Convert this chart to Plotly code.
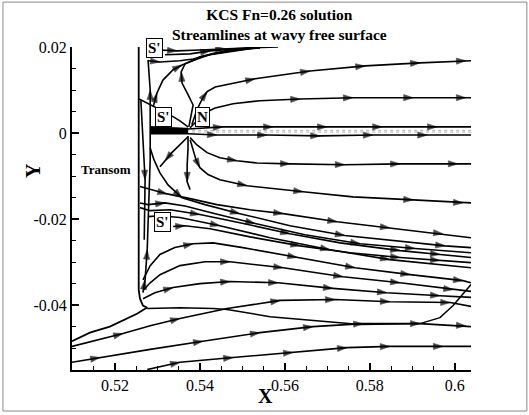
import plotly.graph_objects as go

# ---------------- axis ticks ----------------
x_tick_vals = [0.52, 0.54, 0.56, 0.58, 0.60]
x_tick_text = ["0.52", "0.54", "0.56", "0.58", "0.6"]
y_tick_vals = [0.02, 0.0, -0.02, -0.04]
y_tick_text = ["0.02", "0", "-0.02", "-0.04"]

# ---------------- streamline data (X, Y) + arrow vertex indices ----------------
transom_x = [0.5099, 0.5141, 0.5188, 0.5224, 0.5252, 0.5268, 0.5276, 0.5266, 0.5259, 0.5256, 0.5256]
transom_y = [-0.0484, -0.0464, -0.0450, -0.0434, -0.0420, -0.0410, -0.0406, -0.0401, -0.0385, -0.0364, 0.0201]

top1_x = [0.5278, 0.5306, 0.5353, 0.5384, 0.5424, 0.5487, 0.5530]
top1_y = [0.0169, 0.0166, 0.0169, 0.0173, 0.0183, 0.0192, 0.0199]
top1_arrows = [1]

top2_x = [0.5306, 0.5346, 0.5400, 0.5459, 0.5518, 0.5584]
top2_y = [0.0194, 0.0192, 0.0194, 0.0197, 0.0199, 0.0201]
top2_arrows = [1, 3]

top3_x = [0.5318, 0.5377, 0.5424, 0.5483, 0.5541]
top3_y = [0.0183, 0.0185, 0.0192, 0.0197, 0.0199]
top3_arrows = [2]

sep_c1_x = [0.5290, 0.5294, 0.5299, 0.5313, 0.5337, 0.5358, 0.5388, 0.5428, 0.5487, 0.5541]
sep_c1_y = [0.0062, 0.0078, 0.0094, 0.0124, 0.0148, 0.0159, 0.0171, 0.0185, 0.0194, 0.0199]
sep_c1_arrows = [2, 5]

sep_c2_x = [0.5374, 0.5379, 0.5384, 0.5372, 0.5358, 0.5356, 0.5365, 0.5400, 0.5459, 0.5518]
sep_c2_y = [0.0015, 0.0043, 0.0066, 0.0090, 0.0117, 0.0143, 0.0162, 0.0178, 0.0192, 0.0199]
sep_c2_arrows = [5]

up1_x = [0.5381, 0.5393, 0.5407, 0.5417, 0.5436, 0.5483, 0.5530, 0.5659, 0.5789, 0.5918, 0.6026, 0.6038]
up1_y = [0.0020, 0.0055, 0.0083, 0.0097, 0.0108, 0.0117, 0.0127, 0.0145, 0.0157, 0.0164, 0.0169, 0.0169]
up1_arrows = [3, 6, 7, 8, 9, 10]

up2_x = [0.5377, 0.5396, 0.5412, 0.5436, 0.5478, 0.5541, 0.5636, 0.5760, 0.5902, 0.6026, 0.6038]
up2_y = [0.0013, 0.0031, 0.0048, 0.0059, 0.0069, 0.0076, 0.0080, 0.0083, 0.0083, 0.0083, 0.0083]
up2_arrows = [6, 7, 8, 9]

hz1_x = [0.5283, 0.5372, 0.5454, 0.5572, 0.5699, 0.5829, 0.5958, 0.6038]
hz1_y = [0.0015, 0.0010, 0.0015, 0.0015, 0.0015, 0.0015, 0.0015, 0.0015]
hz1_arrows = [2, 3, 4, 5, 6]

hz2_x = [0.5283, 0.5372, 0.5440, 0.5558, 0.5683, 0.5807, 0.5935, 0.6038]
hz2_y = [-0.0001, -0.0001, -0.0004, -0.0004, -0.0006, -0.0004, -0.0004, -0.0004]
hz2_arrows = [2, 3, 4, 5, 6]

thin1_x = [0.5283, 0.6038]
thin1_y = [0.0007, 0.0007]
thin2_x = [0.5283, 0.6038]
thin2_y = [0.0003, 0.0003]

core_x = [0.5283, 0.5330, 0.5372]
core_y = [0.0008, 0.0007, 0.0006]

nleft_x = [0.5372, 0.5353, 0.5330, 0.5306, 0.5283, 0.5266, 0.5257]
nleft_y = [0.0015, 0.0029, 0.0043, 0.0055, 0.0066, 0.0076, 0.0080]

dn1_x = [0.5377, 0.5393, 0.5417, 0.5447, 0.5487, 0.5534, 0.5612, 0.5741, 0.5871, 0.6007, 0.6038]
dn1_y = [-0.0010, -0.0027, -0.0045, -0.0057, -0.0064, -0.0069, -0.0071, -0.0073, -0.0071, -0.0071, -0.0071]
dn1_arrows = [4, 6, 7, 8, 9]

dn2_x = [0.5377, 0.5384, 0.5391, 0.5400, 0.5419, 0.5447, 0.5511, 0.5643, 0.5760, 0.5902, 0.6019, 0.6038]
dn2_y = [-0.0015, -0.0038, -0.0062, -0.0080, -0.0096, -0.0108, -0.0122, -0.0136, -0.0148, -0.0155, -0.0162, -0.0162]
dn2_arrows = [3, 6, 7, 9, 10]

dn3_x = [0.5372, 0.5372, 0.5370, 0.5370, 0.5377]
dn3_y = [-0.0006, -0.0038, -0.0073, -0.0113, -0.0131]
dn3_arrows = [3]

dnleft_x = [0.5372, 0.5353, 0.5334, 0.5318, 0.5306]
dnleft_y = [-0.0008, -0.0027, -0.0045, -0.0064, -0.0078]
dnleft_arrows = [3]

vert_up_x = [0.5266, 0.5271, 0.5276, 0.5280, 0.5283, 0.5283, 0.5283, 0.5278]
vert_up_y = [-0.0371, -0.0341, -0.0271, -0.0155, -0.0062, 0.0031, 0.0101, 0.0171]
vert_up_arrows = [1, 2, 6]

vert_dn_x = [0.5261, 0.5266, 0.5271, 0.5269]
vert_dn_y = [0.0078, -0.0015, -0.0108, -0.0248]
vert_dn_arrows = [2]

sep_d4_x = [0.5283, 0.5292, 0.5306, 0.5325, 0.5358, 0.5412, 0.5494, 0.5612, 0.5741, 0.5871, 0.5977, 0.6038]
sep_d4_y = [-0.0034, -0.0062, -0.0092, -0.0120, -0.0150, -0.0166, -0.0187, -0.0215, -0.0238, -0.0252, -0.0262, -0.0266]
sep_d4_arrows = [4, 6, 8, 10]

bd1_x = [0.5259, 0.5283, 0.5323, 0.5377, 0.5440, 0.5518, 0.5596, 0.5723, 0.5847, 0.5972, 0.6038]
bd1_y = [-0.0124, -0.0131, -0.0141, -0.0152, -0.0166, -0.0178, -0.0187, -0.0206, -0.0220, -0.0234, -0.0243]
bd1_arrows = [2, 6, 7, 8, 9]

bd3_x = [0.5259, 0.5278, 0.5318, 0.5365, 0.5436, 0.5530, 0.5647, 0.5777, 0.5906, 0.6038]
bd3_y = [-0.0162, -0.0166, -0.0162, -0.0169, -0.0187, -0.0210, -0.0236, -0.0257, -0.0268, -0.0278]
bd3_arrows = [2, 5, 7, 8]

bd4_x = [0.5259, 0.5283, 0.5330, 0.5400, 0.5494, 0.5612, 0.5730, 0.5871, 0.5965, 0.6038]
bd4_y = [-0.0173, -0.0180, -0.0178, -0.0189, -0.0208, -0.0234, -0.0255, -0.0273, -0.0282, -0.0289]
bd4_arrows = [3, 5, 7, 8]

bd5_x = [0.5337, 0.5365, 0.5424, 0.5518, 0.5636, 0.5753, 0.5871, 0.5965, 0.6038]
bd5_y = [-0.0217, -0.0215, -0.0222, -0.0241, -0.0262, -0.0278, -0.0289, -0.0296, -0.0301]
bd5_arrows = [1, 4, 6, 7]

bd6_x = [0.5278, 0.5306, 0.5353, 0.5447, 0.5565, 0.5706, 0.5847, 0.6038]
bd6_y = [-0.0194, -0.0192, -0.0196, -0.0215, -0.0243, -0.0271, -0.0294, -0.0313]
bd6_arrows = [3, 5, 6]

lo1_x = [0.5266, 0.5283, 0.5306, 0.5341, 0.5384, 0.5431, 0.5501, 0.5629, 0.5765, 0.5895, 0.6019, 0.6038]
lo1_y = [-0.0341, -0.0308, -0.0282, -0.0266, -0.0257, -0.0255, -0.0266, -0.0289, -0.0313, -0.0329, -0.0343, -0.0348]
lo1_arrows = [4, 7, 8, 9, 10]

lo2_x = [0.5266, 0.5283, 0.5306, 0.5353, 0.5412, 0.5471, 0.5596, 0.5737, 0.5871, 0.5996, 0.6038]
lo2_y = [-0.0366, -0.0348, -0.0329, -0.0308, -0.0299, -0.0299, -0.0313, -0.0334, -0.0348, -0.0364, -0.0368]
lo2_arrows = [5, 6, 7, 8, 9]

lo3_x = [0.5266, 0.5294, 0.5337, 0.5400, 0.5471, 0.5584, 0.5713, 0.5840, 0.5965, 0.6038]
lo3_y = [-0.0385, -0.0371, -0.0359, -0.0350, -0.0345, -0.0348, -0.0361, -0.0371, -0.0378, -0.0382]
lo3_arrows = [2, 4, 5, 6, 7, 8]

lo4_x = [0.5099, 0.5165, 0.5219, 0.5283, 0.5353, 0.5464, 0.5589, 0.5718, 0.5847, 0.5989, 0.6038]
lo4_y = [-0.0496, -0.0480, -0.0466, -0.0448, -0.0431, -0.0408, -0.0389, -0.0387, -0.0392, -0.0394, -0.0403]
lo4_arrows = [2, 4, 6, 7, 8, 9]

wake_edge_x = [0.5276, 0.5353, 0.5431, 0.5464, 0.5565, 0.5683, 0.5777, 0.5918, 0.5965, 0.5996, 0.6019, 0.6038]
wake_edge_y = [-0.0408, -0.0406, -0.0408, -0.0410, -0.0427, -0.0438, -0.0445, -0.0443, -0.0429, -0.0401, -0.0375, -0.0352]

lo5_x = [0.5099, 0.5165, 0.5283, 0.5407, 0.5541, 0.5666, 0.5784, 0.5918, 0.6026, 0.6038]
lo5_y = [-0.0533, -0.0522, -0.0503, -0.0484, -0.0464, -0.0450, -0.0443, -0.0443, -0.0448, -0.0450]
lo5_arrows = [1, 3, 4, 5, 6, 7, 8]

lo6_x = [0.5276, 0.5353, 0.5478, 0.5619, 0.5746, 0.5847, 0.5972, 0.6038]
lo6_y = [-0.0550, -0.0533, -0.0522, -0.0510, -0.0499, -0.0496, -0.0496, -0.0496]
lo6_arrows = [1, 2, 3, 4, 5, 6]

# ---------------- labels ----------------
title_lines = ["KCS Fn=0.26 solution", "Streamlines at wavy free surface"]
x_label = "X"
y_label = "Y"
point_labels = ["S'", "S'", "N", "S'"]
point_label_x = [0.5294, 0.5315, 0.5407, 0.5313]
point_label_y = [0.0199, 0.0038, 0.0038, -0.0206]
transom_label = "Transom"
transom_label_x = 0.5178
transom_label_y = -0.0085

# ---------------- build figure ----------------
SERIF = "Liberation Serif, Times New Roman, serif"
fig = go.Figure()

arrow_lines = [
    (top1_x, top1_y, top1_arrows), (top2_x, top2_y, top2_arrows), (top3_x, top3_y, top3_arrows),
    (sep_c1_x, sep_c1_y, sep_c1_arrows), (sep_c2_x, sep_c2_y, sep_c2_arrows),
    (up1_x, up1_y, up1_arrows), (up2_x, up2_y, up2_arrows),
    (hz1_x, hz1_y, hz1_arrows), (hz2_x, hz2_y, hz2_arrows),
    (dn1_x, dn1_y, dn1_arrows), (dn2_x, dn2_y, dn2_arrows), (dn3_x, dn3_y, dn3_arrows),
    (dnleft_x, dnleft_y, dnleft_arrows),
    (vert_up_x, vert_up_y, vert_up_arrows), (vert_dn_x, vert_dn_y, vert_dn_arrows),
    (sep_d4_x, sep_d4_y, sep_d4_arrows),
    (bd1_x, bd1_y, bd1_arrows), (bd3_x, bd3_y, bd3_arrows), (bd4_x, bd4_y, bd4_arrows),
    (bd5_x, bd5_y, bd5_arrows), (bd6_x, bd6_y, bd6_arrows),
    (lo1_x, lo1_y, lo1_arrows), (lo2_x, lo2_y, lo2_arrows), (lo3_x, lo3_y, lo3_arrows),
    (lo4_x, lo4_y, lo4_arrows), (lo5_x, lo5_y, lo5_arrows), (lo6_x, lo6_y, lo6_arrows),
]
plain_lines = [
    (transom_x, transom_y, 1.8), (nleft_x, nleft_y, 1.5), (wake_edge_x, wake_edge_y, 1.5),
]

for tx, ty in [(thin1_x, thin1_y), (thin2_x, thin2_y)]:
    fig.add_trace(go.Scatter(x=tx, y=ty, mode="lines", hoverinfo="skip",
                             line=dict(color="#9a9a9a", width=0.8, dash="dot"), showlegend=False))

for lx, ly, w in plain_lines:
    fig.add_trace(go.Scatter(x=lx, y=ly, mode="lines", hoverinfo="skip",
                             line=dict(color="black", width=w), showlegend=False))

# streamline bodies
for lx, ly, arr in arrow_lines:
    fig.add_trace(go.Scatter(x=lx, y=ly, mode="lines", hoverinfo="skip", showlegend=False,
                             line=dict(color="black", width=1.6)))

# arrow heads: each head is placed at a streamline vertex, oriented from the previous vertex
ax_pts, ay_pts, a_sizes = [], [], []
for lx, ly, arr in arrow_lines:
    for i in arr:
        ax_pts += [lx[i - 1], lx[i], None]
        ay_pts += [ly[i - 1], ly[i], None]
        a_sizes += [0, 10, 0]
fig.add_trace(go.Scatter(
    x=ax_pts, y=ay_pts, mode="markers", hoverinfo="skip", showlegend=False,
    marker=dict(symbol="arrow", size=a_sizes, color="black", angleref="previous",
                line=dict(width=0.6, color="black")),
))

fig.add_trace(go.Scatter(x=core_x, y=core_y, mode="lines", hoverinfo="skip", showlegend=False,
                         line=dict(color="black", width=6)))

annotations = []
for txt, px_, py_ in zip(point_labels, point_label_x, point_label_y):
    annotations.append(dict(x=px_, y=py_, xref="x", yref="y", text="<b>%s</b>" % txt,
                            xanchor="center", yanchor="middle",
                            showarrow=False, font=dict(family=SERIF, size=15, color="black"),
                            bgcolor="white", bordercolor="black", borderwidth=1, borderpad=1))
annotations.append(dict(x=transom_label_x, y=transom_label_y, xref="x", yref="y",
                        text="<b>%s</b>" % transom_label, showarrow=False,
                        xanchor="center", yanchor="middle",
                        font=dict(family=SERIF, size=13, color="black")))
annotations.append(dict(x=0.519, y=1.071, xref="paper", yref="paper",
                        text="<br>".join("<b>%s</b>" % t for t in title_lines),
                        xanchor="center", yanchor="middle", align="center",
                        showarrow=False, font=dict(family=SERIF, size=15.5, color="black")))
annotations.append(dict(x=0.486, y=-0.082, xref="paper", yref="paper", text="<b>%s</b>" % x_label,
                        xanchor="center", yanchor="middle",
                        showarrow=False, font=dict(family=SERIF, size=20, color="black")))
annotations.append(dict(x=-0.098, y=0.619, xref="paper", yref="paper", text="<b>%s</b>" % y_label,
                        xanchor="center", yanchor="middle",
                        showarrow=False, textangle=-90, font=dict(family=SERIF, size=20, color="black")))

fig.update_layout(
    width=529, height=415,
    margin=dict(l=72, r=58, t=47, b=45, pad=0),
    paper_bgcolor="white", plot_bgcolor="white",
    showlegend=False,
    annotations=annotations,
    shapes=[dict(type="rect", xref="paper", yref="paper", x0=-0.173, x1=1.140, y0=-0.127, y1=1.139,
                 line=dict(color="#8a8a8a", width=1), layer="above")],
)
axis_common = dict(
    showline=True, linecolor="black", linewidth=2, mirror=False,
    showgrid=False, zeroline=False,
    ticks="inside", ticklen=7, tickwidth=2, tickcolor="black",
    tickfont=dict(family=SERIF, size=16, color="black"),
    automargin=False,
)
fig.update_xaxes(range=[0.5099, 0.6038], tickvals=x_tick_vals, ticktext=x_tick_text,
                 minor=dict(ticks="inside", ticklen=4, tickwidth=1, tickcolor="black", dtick=0.005, tick0=0.5),
                 **axis_common)
fig.update_yaxes(range=[-0.0551, 0.0201], tickvals=y_tick_vals, ticktext=y_tick_text,
                 minor=dict(ticks="inside", ticklen=4, tickwidth=1, tickcolor="black", dtick=0.005, tick0=0.0),
                 **axis_common)

fig.write_html("out.html", config={"displayModeBar": False},
               post_script="document.body.style.margin='0';document.body.style.overflow='hidden';")
